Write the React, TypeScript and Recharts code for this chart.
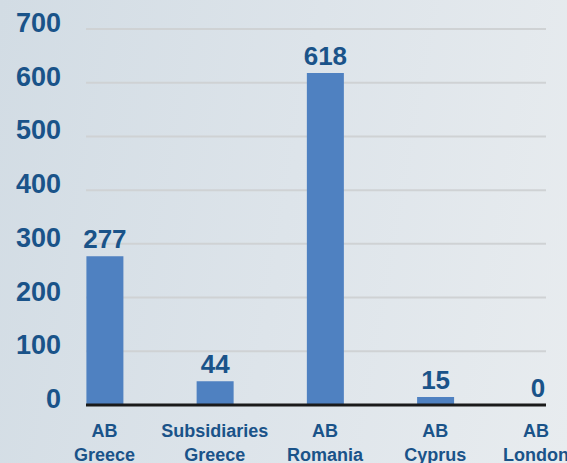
import React from "react";
import { BarChart, Bar, XAxis, YAxis, CartesianGrid, LabelList } from "recharts";

const categoriesLine1 = ["AB", "Subsidiaries", "AB", "AB", "AB"];
const categoriesLine2 = ["Greece", "Greece", "Romania", "Cyprus", "London"];
const values = [277, 44, 618, 15, 0];
const yTicks = [0, 100, 200, 300, 400, 500, 600, 700];

const data = values.map((v, i) => ({ idx: i, value: v }));

const TEXT = "#1a5389";
const FONT = "'Liberation Sans', Arial, sans-serif";
const CHART_W = 567;
const EDGE_CLAMP = 31; // keep the last labels from running off the right edge

const YTick = (props: any) => {
  const { x, y, payload } = props;
  return (
    <text x={x} y={y} dy={3} textAnchor="end" fill={TEXT} fontSize={27} fontWeight={700} fontFamily={FONT}>
      {payload.value}
    </text>
  );
};

const XTick = (props: any) => {
  const { x, y, payload } = props;
  const i = payload.value as number;
  const cx = Math.min(x, CHART_W - EDGE_CLAMP);
  return (
    <text x={cx} textAnchor="middle" fill={TEXT} fontSize={18} fontWeight={700} fontFamily={FONT}>
      <tspan x={cx} y={y + 24}>{categoriesLine1[i]}</tspan>
      <tspan x={cx} y={y + 48}>{categoriesLine2[i]}</tspan>
    </text>
  );
};

const BarLabel = (props: any) => {
  const { x, y, width, value } = props;
  const cx = Math.min(x + width / 2, CHART_W - 29);
  return (
    <text x={cx} y={y - 8} textAnchor="middle" fill={TEXT} fontSize={26} fontWeight={700} fontFamily={FONT}>
      {value}
    </text>
  );
};

export default function App() {
  return (
    <div
      style={{
        position: "absolute",
        left: 0,
        top: 0,
        width: 567,
        height: 463,
        background: "linear-gradient(100deg, #d2dce4 0%, #dde4ea 50%, #e8ecef 100%)",
      }}
    >
      <BarChart width={CHART_W} height={463} data={data} margin={{ top: 29, right: 21, bottom: 0, left: 0 }}>
        <CartesianGrid vertical={false} stroke="#cfd2d4" strokeWidth={2} />
        <XAxis
          dataKey="idx"
          type="number"
          domain={[-0.168, 4.005]}
          allowDataOverflow
          ticks={[0, 1, 2, 3, 4]}
          interval={0}
          height={58}
          tick={<XTick />}
          tickLine={false}
          axisLine={{ stroke: "#1a1a1a", strokeWidth: 3 }}
        />
        <YAxis
          domain={[0, 700]}
          ticks={yTicks}
          width={86}
          axisLine={false}
          tickLine={false}
          tickSize={6}
          tickMargin={19}
          tick={<YTick />}
        />
        <Bar dataKey="value" fill="#4f81c1" barSize={37} minPointSize={0.01} isAnimationActive={false}>
          <LabelList dataKey="value" content={<BarLabel />} />
        </Bar>
      </BarChart>
    </div>
  );
}
